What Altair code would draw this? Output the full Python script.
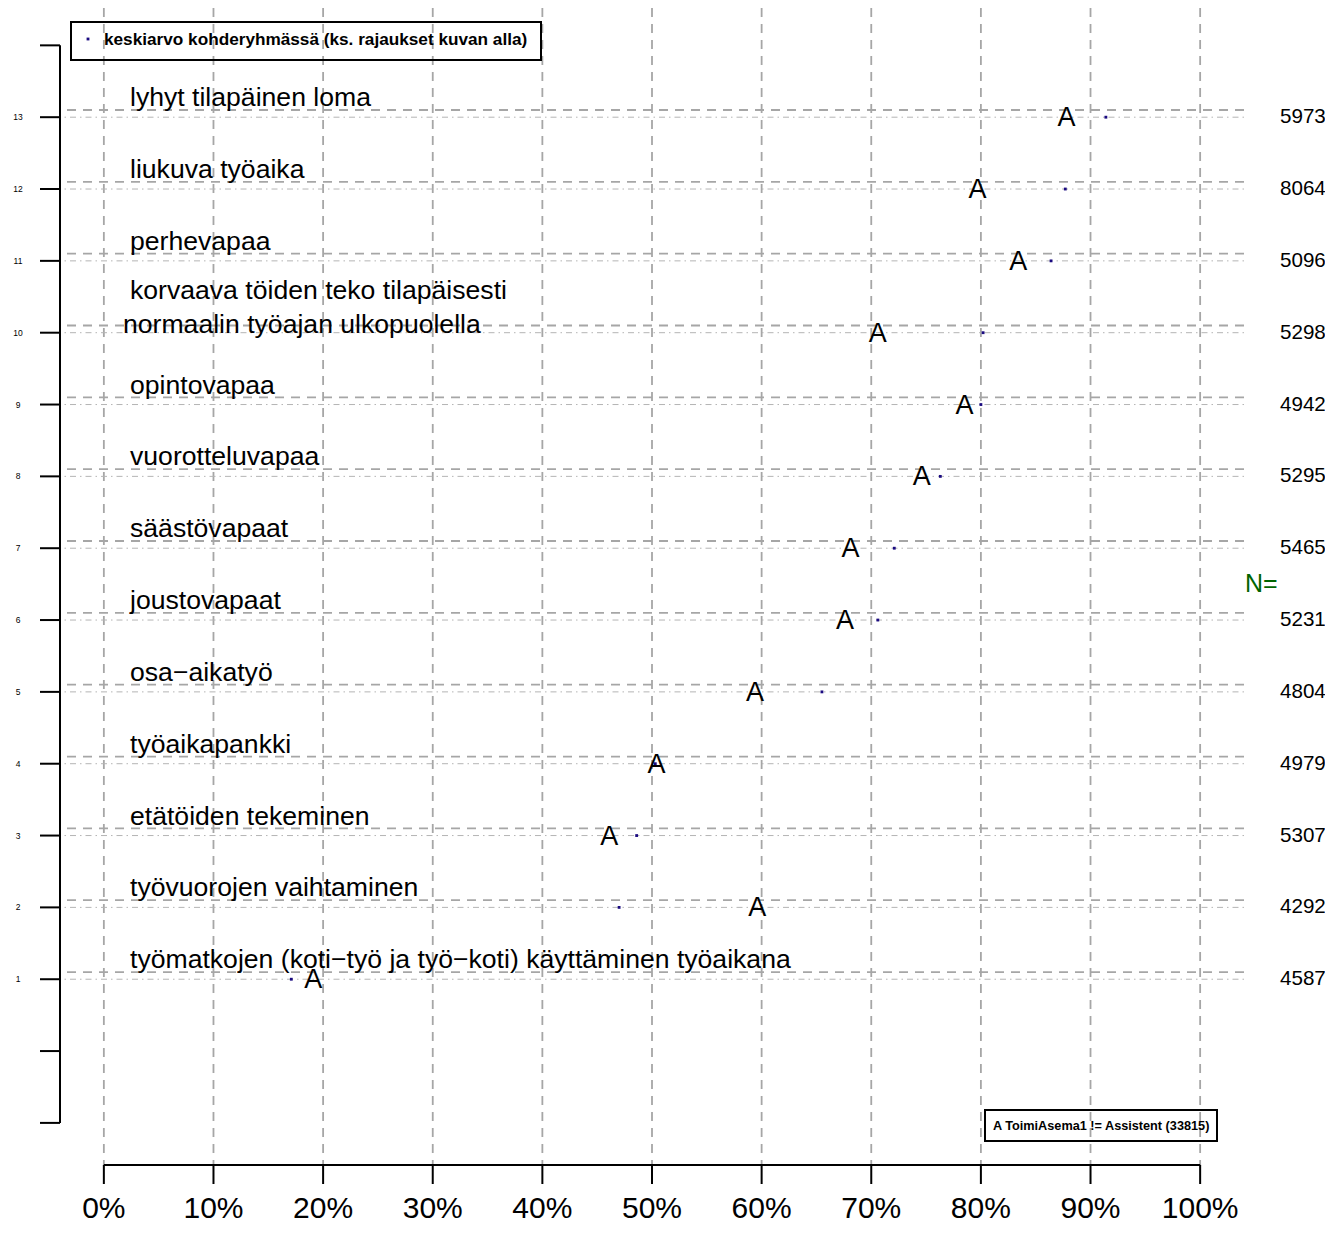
import altair as alt
import pandas as pd

# ---------------- data ----------------
categories = [
    "työmatkojen (koti−työ ja työ−koti) käyttäminen työaikana",
    "työvuorojen vaihtaminen",
    "etätöiden tekeminen",
    "työaikapankki",
    "osa−aikatyö",
    "joustovapaat",
    "säästövapaat",
    "vuorotteluvapaa",
    "opintovapaa",
    "korvaava töiden teko tilapäisesti\nnormaalin työajan ulkopuolella",
    "perhevapaa",
    "liukuva työaika",
    "lyhyt tilapäinen loma",
]
positions = list(range(1, 14))
group_a = [19.1, 59.6, 46.1, 50.4, 59.4, 67.6, 68.1, 74.6, 78.5, 70.6, 83.4, 79.7, 87.8]
target_mean = [17.1, 47.0, 48.6, 50.3, 65.5, 70.6, 72.1, 76.3, 80.0, 80.2, 86.4, 87.7, 91.4]
n_values = [4587, 4292, 5307, 4979, 4804, 5231, 5465, 5295, 4942, 5298, 5096, 8064, 5973]

x_ticks = [0, 10, 20, 30, 40, 50, 60, 70, 80, 90, 100]
x_tick_labels = ["0%", "10%", "20%", "30%", "40%", "50%", "60%", "70%", "80%", "90%", "100%"]
y_ticks = [-1, 0, 1, 2, 3, 4, 5, 6, 7, 8, 9, 10, 11, 12, 13, 14]
y_tick_labels = [str(v) for v in positions]

legend_top_text = "keskiarvo kohderyhmässä (ks. rajaukset kuvan alla)"
legend_bottom_text = "A  ToimiAsema1 != Assistent (33815)"
n_title = "N="
n_title_pos = 6.5
marker_letter = "A"

FONT = "Liberation Sans"
GRID = "#A6A6A6"
DOT = "#1A0A80"

xs = alt.Scale(domain=[-4, 104], nice=False, zero=False)
ys = alt.Scale(domain=[-1.6, 14.52], nice=False, zero=False)

df = pd.DataFrame({
    "pos": positions,
    "label": categories,
    "a": group_a,
    "mean": target_mean,
    "n": [str(v) for v in n_values],
    "letter": [marker_letter] * len(positions),
})

# split labels into lines: single-line labels, last line and upper lines of wrapped ones
single_rows, multi_last_rows, multi_upper_rows = [], [], []
for p, lab in zip(positions, categories):
    parts = lab.split("\n")
    if len(parts) == 1:
        single_rows.append({"pos": p, "t": parts[0]})
    else:
        multi_last_rows.append({"pos": p, "t": parts[-1]})
        multi_upper_rows.append({"pos": p, "t": "\n".join(parts[:-1])})
single_df = pd.DataFrame(single_rows)
multi_last_df = pd.DataFrame(multi_last_rows)
multi_upper_df = pd.DataFrame(multi_upper_rows)

xt = pd.DataFrame({"v": x_ticks, "lab": x_tick_labels})
yt = pd.DataFrame({"v": y_ticks})
ytl = pd.DataFrame({"v": positions, "lab": y_tick_labels})
xrange_df = pd.DataFrame({"lo": [min(x_ticks)], "hi": [max(x_ticks)]})
yrange_df = pd.DataFrame({"lo": [min(y_ticks)], "hi": [max(y_ticks)]})

# vertical dashed grid
vgrid = alt.Chart(xt).mark_rule(color=GRID, strokeWidth=1.8, strokeDash=[9, 7]).encode(
    x=alt.X("v:Q", scale=xs, axis=None)
)
# horizontal dashed line just above each category
hdash = alt.Chart(df).transform_calculate(p2="datum.pos + 0.1").mark_rule(
    color=GRID, strokeWidth=1.8, strokeDash=[9, 7]
).encode(y=alt.Y("p2:Q", scale=ys, axis=None))
# dot-dash line at each category
hdot = alt.Chart(df).mark_rule(
    color="#B4B4B4", strokeWidth=1, strokeDash=[1.5, 4, 6, 4]
).encode(y=alt.Y("pos:Q", scale=ys, axis=None))

# y axis
yaxis_line = alt.Chart(yrange_df).mark_rule(color="black", strokeWidth=2).encode(
    x=alt.value(0), y=alt.Y("lo:Q", scale=ys, axis=None), y2="hi:Q"
)
yaxis_ticks = alt.Chart(yt).mark_rule(color="black", strokeWidth=2).encode(
    x=alt.value(-20), x2=alt.value(0), y=alt.Y("v:Q", scale=ys, axis=None)
)
yaxis_labels = alt.Chart(ytl).mark_text(font=FONT, fontSize=8.5, align="center", baseline="middle").encode(
    x=alt.value(-42), y=alt.Y("v:Q", scale=ys, axis=None), text="lab:N"
)

# x axis
xaxis_line = alt.Chart(xrange_df).mark_rule(color="black", strokeWidth=2).encode(
    x=alt.X("lo:Q", scale=xs, axis=None), x2="hi:Q", y=alt.value(1157)
)
xaxis_ticks = alt.Chart(xt).mark_rule(color="black", strokeWidth=2).encode(
    x=alt.X("v:Q", scale=xs, axis=None), y=alt.value(1157), y2=alt.value(1176)
)
xaxis_labels = alt.Chart(xt).mark_text(font=FONT, fontSize=30, align="center", baseline="alphabetic").encode(
    x=alt.X("v:Q", scale=xs, axis=None), y=alt.value(1210), text="lab:N"
)

# category labels
LABEL_SIZE = 26.6
labels_single = alt.Chart(single_df).mark_text(
    font=FONT, fontSize=LABEL_SIZE, align="left", baseline="alphabetic", dy=-11
).encode(x=alt.value(70), y=alt.Y("pos:Q", scale=ys, axis=None), text="t:N")
labels_multi_last = alt.Chart(multi_last_df).mark_text(
    font=FONT, fontSize=LABEL_SIZE, align="left", baseline="alphabetic", dy=0
).encode(x=alt.value(63), y=alt.Y("pos:Q", scale=ys, axis=None), text="t:N")
labels_multi_upper = alt.Chart(multi_upper_df).mark_text(
    font=FONT, fontSize=LABEL_SIZE, align="left", baseline="alphabetic", dy=-34
).encode(x=alt.value(70), y=alt.Y("pos:Q", scale=ys, axis=None), text="t:N")

# group markers "A"
amarks = alt.Chart(df).mark_text(font=FONT, fontSize=27, align="center", baseline="middle", dy=1).encode(
    x=alt.X("a:Q", scale=xs, axis=None), y=alt.Y("pos:Q", scale=ys, axis=None), text="letter:N"
)
# target group mean dots
dots = alt.Chart(df).mark_square(color=DOT, size=8, opacity=1).encode(
    x=alt.X("mean:Q", scale=xs, axis=None), y=alt.Y("pos:Q", scale=ys, axis=None)
)

# N values
nvals = alt.Chart(df).mark_text(font=FONT, fontSize=20.6, align="left", baseline="middle").encode(
    x=alt.value(1220), y=alt.Y("pos:Q", scale=ys, axis=None), text="n:N"
)
ntitle = alt.Chart(pd.DataFrame({"t": [n_title], "p": [n_title_pos]})).mark_text(
    font=FONT, fontSize=25, align="left", baseline="middle", color="#006400"
).encode(x=alt.value(1185), y=alt.Y("p:Q", scale=ys, axis=None), text="t:N")

# legend boxes
top_df = pd.DataFrame({"t": [legend_top_text]})
box_top = alt.Chart(top_df).mark_rect(fillOpacity=0, stroke="black", strokeWidth=2).encode(
    x=alt.value(11), x2=alt.value(481), y=alt.value(14), y2=alt.value(52)
)
box_top_dot = alt.Chart(top_df).mark_square(color=DOT, size=8, opacity=1).encode(
    x=alt.value(28), y=alt.value(31)
)
box_top_text = alt.Chart(top_df).mark_text(
    font=FONT, fontSize=17.2, fontWeight="bold", align="left", baseline="middle"
).encode(x=alt.value(44), y=alt.value(32), text="t:N")

bot_df = pd.DataFrame({"t": [legend_bottom_text]})
box_bot = alt.Chart(bot_df).mark_rect(fillOpacity=0, stroke="black", strokeWidth=2).encode(
    x=alt.value(925), x2=alt.value(1157), y=alt.value(1102), y2=alt.value(1133)
)
box_bot_text = alt.Chart(bot_df).mark_text(
    font=FONT, fontSize=12.7, fontWeight="bold", align="left", baseline="middle"
).encode(x=alt.value(933), y=alt.value(1118), text="t:N")

chart = alt.layer(
    vgrid, hdash, hdot,
    yaxis_line, yaxis_ticks, yaxis_labels,
    xaxis_line, xaxis_ticks, xaxis_labels,
    labels_single, labels_multi_last, labels_multi_upper,
    dots, amarks, nvals, ntitle,
    box_top, box_top_dot, box_top_text, box_bot, box_bot_text,
).properties(
    width=1184, height=1158,
    autosize=alt.AutoSizeParams(type="none"),
    padding={"left": 52, "top": 0, "right": 81, "bottom": 59},
    background="white",
).configure_view(strokeWidth=0)

chart.save("out.html", embed_options={"renderer": "svg", "actions": False})
